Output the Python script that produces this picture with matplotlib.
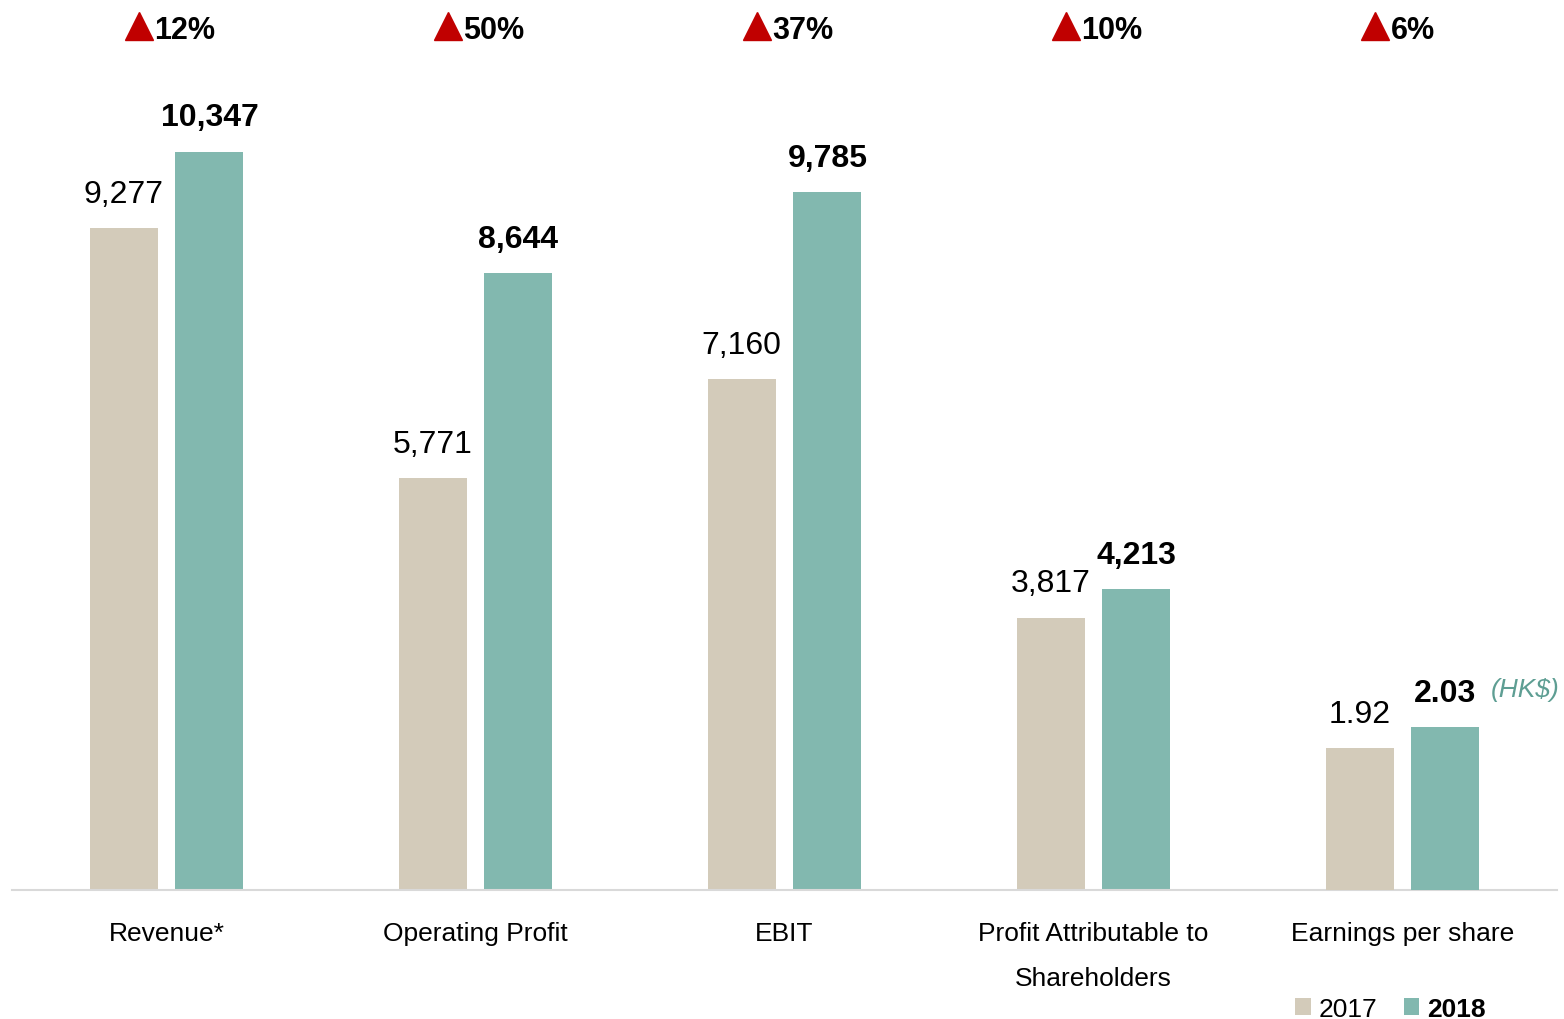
import numpy as np
import matplotlib.pyplot as plt
import matplotlib.transforms as mtransforms

plt.rcParams['font.family'] = ['Liberation Sans', 'DejaVu Sans']

categories = ['Revenue*', 'Operating Profit', 'EBIT',
              'Profit Attributable to\nShareholders', 'Earnings per share']
v2017 = [9277, 5771, 7160, 3817]
v2018 = [10347, 8644, 9785, 4213]
eps_2017 = 1.92
eps_2018 = 2.03
growth = ['12%', '50%', '37%', '10%', '6%']

c17 = '#D3CBBA'
c18 = '#82B8AF'
red = '#C00000'

fig = plt.figure(figsize=(15.64, 10.2), dpi=100)
ax = fig.add_axes([12 / 1564, 129 / 1020, 1545 / 1564, 880 / 1020])
ax2 = ax.twinx()

x = np.arange(len(categories))
w = 0.22
off = 0.139

# amounts in HK$ million on the main axis
b1 = ax.bar(x[:4] - off, v2017, w, color=c17, label='2017')
b2 = ax.bar(x[:4] + off, v2018, w, color=c18, label='2018')
ax.set_ylim(0, 12335)
ax.set_xlim(-0.5, 4.5)

# earnings per share on its own scale
ax2.bar(x[4] - off, eps_2017, w, color=c17)
ax2.bar(x[4] + off, eps_2018, w, color=c18)
ax2.set_ylim(1.176, 5.786)

for a in (ax, ax2):
    for s in ('top', 'right', 'left'):
        a.spines[s].set_visible(False)
    a.set_yticks([])
ax2.spines['bottom'].set_visible(False)
ax.spines['bottom'].set_color('#D9D9D9')
ax.spines['bottom'].set_linewidth(1.5)

ax.set_xticks(x)
ax.set_xticklabels(categories, fontsize=19, linespacing=2.15)
ax.tick_params(axis='x', length=0, pad=22)

# value labels
for i in range(4):
    ax.annotate(f'{v2017[i]:,}', (x[i] - off, v2017[i]), xytext=(0, 19),
                textcoords='offset points', ha='center', va='baseline',
                fontsize=23)
    ax.annotate(f'{v2018[i]:,}', (x[i] + off, v2018[i]), xytext=(0, 19),
                textcoords='offset points', ha='center', va='baseline',
                fontsize=23, fontweight='bold')
ax2.annotate(f'{eps_2017:.2f}', (x[4] - off, eps_2017), xytext=(0, 19),
             textcoords='offset points', ha='center', va='baseline', fontsize=23)
ax2.annotate(f'{eps_2018:.2f}', (x[4] + off, eps_2018), xytext=(0, 19),
             textcoords='offset points', ha='center', va='baseline',
             fontsize=23, fontweight='bold')
ax2.annotate('(HK$)', (x[4] + off + w / 2, eps_2018), xytext=(8, 22),
             textcoords='offset points', ha='left', va='baseline',
             fontsize=19, style='italic', color='#5E9E93')

# growth markers along the top
trans = mtransforms.blended_transform_factory(ax.transData, fig.transFigure)
for i, g in enumerate(growth):
    tri = trans + mtransforms.ScaledTranslation(-28 / 100, 0, fig.dpi_scale_trans)
    ax.plot([x[i]], [1 - 27 / 1020], marker='^', markersize=20, color=red,
            transform=tri, clip_on=False)
    fig.text(x[i], 1 - 39 / 1020, g, transform=trans + mtransforms.ScaledTranslation(
        -12 / 100, 0, fig.dpi_scale_trans), ha='left', va='baseline',
        fontsize=22, fontweight='bold')

leg = ax.legend(handles=[b1, b2], ncol=2, frameon=False, fontsize=19,
                loc='lower right', bbox_to_anchor=(1486 / 1564, -2 / 1020),
                bbox_transform=fig.transFigure, handlelength=0.6,
                handleheight=0.6, handletextpad=0.3, columnspacing=1.0,
                borderpad=0.0, borderaxespad=0.0)
leg.get_texts()[1].set_fontweight('bold')

fig.savefig('out.png', dpi=100)
